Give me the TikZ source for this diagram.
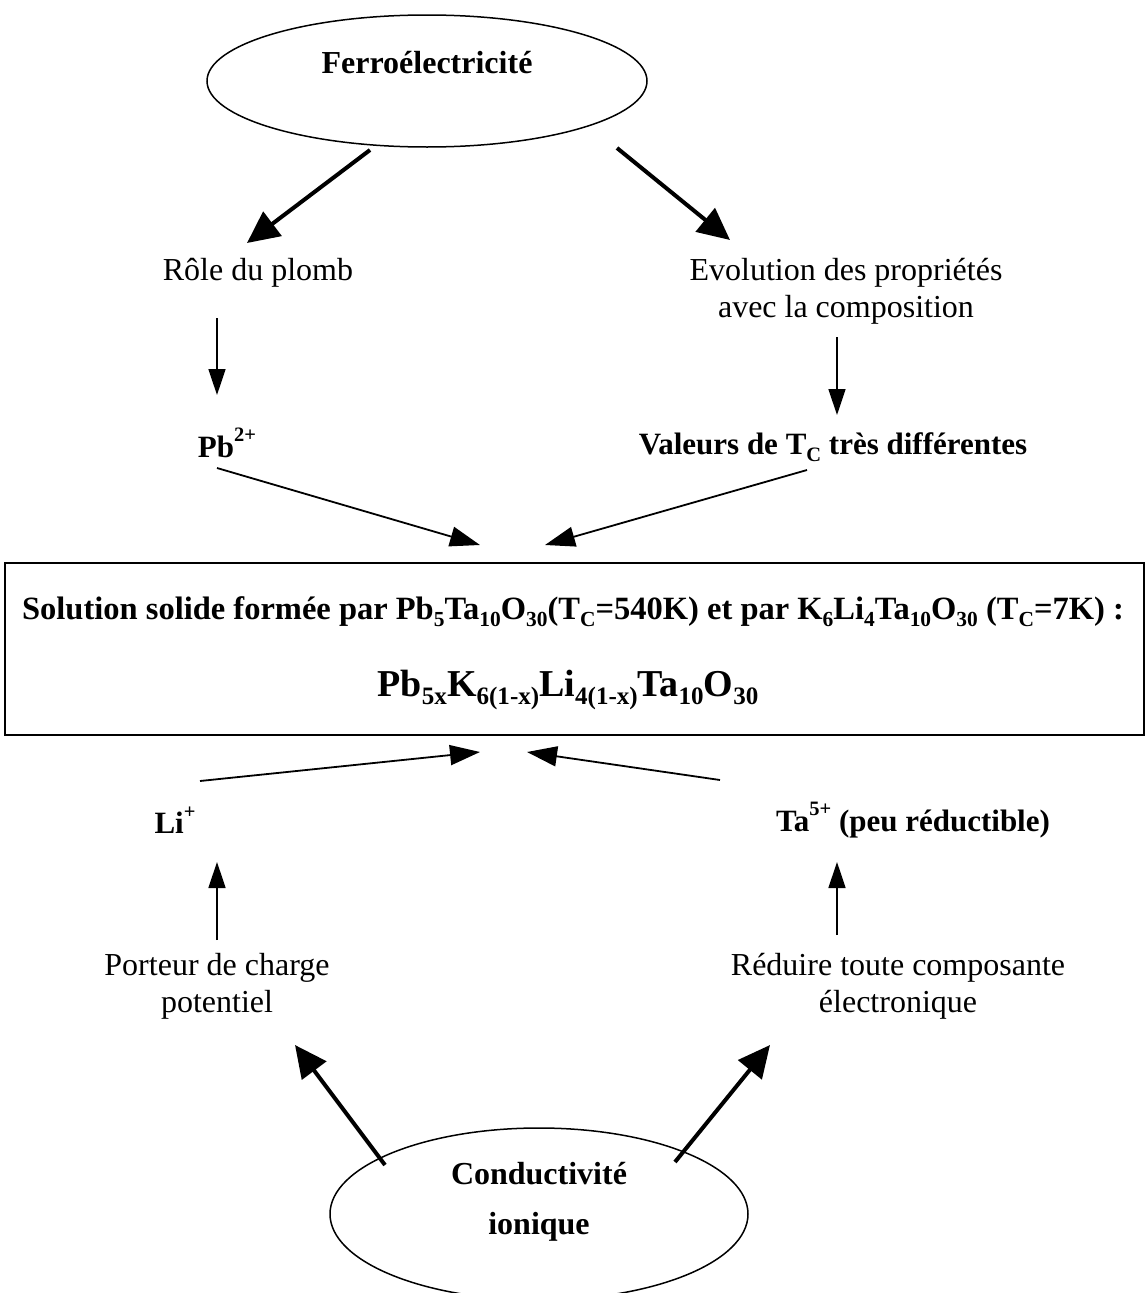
\documentclass[tikz,border=0pt]{standalone}
\usepackage{fontspec}
\setmainfont{Liberation Serif}
\usetikzlibrary{arrows.meta,shapes.geometric}
\newcommand\lowidx[1]{\raisebox{-0.22em}{\scalebox{0.66}{#1}}}
\newcommand\highidx[1]{\raisebox{0.5em}{\scalebox{0.66}{#1}}}
\begin{document}
\begin{tikzpicture}[x=1pt,y=-1pt,
  txt/.style={font=\fontsize{32}{37}\selectfont, align=center, inner sep=0pt},
  btxt/.style={font=\fontsize{31}{37}\selectfont\bfseries, align=center, inner sep=0pt},
  bigtxt/.style={font=\fontsize{38}{44}\selectfont\bfseries, align=center, inner sep=0pt},
  oval/.style={ellipse, draw, line width=1.5pt, inner sep=0pt, align=center, font=\fontsize{32}{37}\selectfont\bfseries},
  bigarrow/.style={line width=4pt, -{Triangle[length=32pt,width=30pt]}},
  smallarrow/.style={line width=1.5pt, -{Triangle[length=26pt,width=17pt]}},
  diagarrow/.style={line width=1.8pt, -{Triangle[length=30pt,width=20pt]}},
]
\useasboundingbox (0,0) rectangle (1146,1293);

% ovals
\node[oval, minimum width=440pt, minimum height=132pt] (ferro) at (427,81) {Ferroélectricité\\\mbox{}};
\node[oval, minimum width=418pt, minimum height=172pt] (cond) at (539,1214) {};
\node[btxt, font=\fontsize{32}{50}\selectfont\bfseries] (condt) at (539,1202) {Conductivité\\ionique};

% texts
\node[txt] (role) at (258,273) {Rôle du plomb};
\node[txt] (evol) at (846,291) {Evolution des propriétés\\avec la composition};
\node[btxt] (pb) at (227,443) {Pb\highidx{2+}};
\node[btxt] (val) at (833,447) {Valeurs de T\lowidx{C} très différentes};
\node[btxt] (li) at (175,820) {Li\highidx{+}};
\node[btxt] (ta) at (913,820) {Ta\highidx{5+} (peu réductible)};
\node[txt] (port) at (217,986) {Porteur de charge\\potentiel};
\node[txt] (red) at (898,986) {Réduire toute composante\\électronique};

% box
\node[draw, line width=1.5pt, minimum width=1139pt, minimum height=172pt, inner sep=0pt] (sol) at (574.5,649) {};
\node[btxt, font=\fontsize{32.5}{37}\selectfont\bfseries] (sol1) at (573,612) {Solution solide formée par Pb\lowidx{5}Ta\lowidx{10}O\lowidx{30}(T\lowidx{C}=540K) et par K\lowidx{6}Li\lowidx{4}Ta\lowidx{10}O\lowidx{30} (T\lowidx{C}=7K) :};
\node[bigtxt] (sol2) at (568,690) {Pb\lowidx{5x}K\lowidx{6(1-x)}Li\lowidx{4(1-x)}Ta\lowidx{10}O\lowidx{30}};

% coordinates
\coordinate (f1) at (370,150); \coordinate (f1e) at (247,243);
\coordinate (f2) at (617,148); \coordinate (f2e) at (730,240);
\coordinate (r1) at (217,318); \coordinate (r1e) at (217,395);
\coordinate (e1) at (837,337); \coordinate (e1e) at (837,415);
\coordinate (p1) at (217,468); \coordinate (s1) at (480,545);
\coordinate (v1) at (807,470); \coordinate (s2) at (545,545);
\coordinate (l1) at (200,781); \coordinate (s3) at (480,752);
\coordinate (t1) at (720,780); \coordinate (s4) at (527,752);
\coordinate (po1) at (217,940); \coordinate (po1e) at (217,862);
\coordinate (re1) at (837,935); \coordinate (re1e) at (837,862);
\coordinate (c1) at (385,1165); \coordinate (c1e) at (295,1045);
\coordinate (c2) at (675,1162); \coordinate (c2e) at (770,1045);

\draw[bigarrow] (f1) -- (f1e);
\draw[bigarrow] (f2) -- (f2e);
\draw[smallarrow] (r1) -- (r1e);
\draw[smallarrow] (e1) -- (e1e);
\draw[diagarrow] (p1) -- (s1);
\draw[diagarrow] (v1) -- (s2);
\draw[diagarrow] (l1) -- (s3);
\draw[diagarrow] (t1) -- (s4);
\draw[smallarrow] (po1) -- (po1e);
\draw[smallarrow] (re1) -- (re1e);
\draw[bigarrow] (c1) -- (c1e);
\draw[bigarrow] (c2) -- (c2e);
\end{tikzpicture}
\end{document}
